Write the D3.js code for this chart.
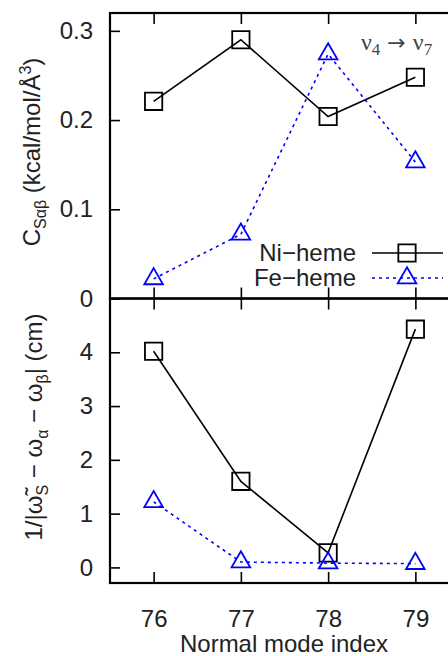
<!DOCTYPE html>
<html><head><meta charset="utf-8">
<script src="https://cdn.jsdelivr.net/npm/d3@7"></script>
<style>
body{margin:0;background:#fff;}
text{font-family:"Liberation Sans",Arial,Helvetica,sans-serif;fill:#222;}
</style></head>
<body><svg id="c" width="448" height="656"></svg>
<script>
const modes = [76, 77, 78, 79];
const couplingNi = [0.221, 0.290, 0.204, 0.248];
const couplingFe = [0.022, 0.072, 0.274, 0.153];
const invDiffNi = [4.02, 1.60, 0.27, 4.43];
const invDiffFe = [1.22, 0.10, 0.08, 0.07];
const topTicks = [0, 0.1, 0.2, 0.3];
const topTickLabels = ["0", "0.1", "0.2", "0.3"];
const botTicks = [0, 1, 2, 3, 4];
const botTickLabels = ["0", "1", "2", "3", "4"];
const seriesNames = ["Ni\u2212heme", "Fe\u2212heme"];

const svg = d3.select("#c");
const L = 110, R = 459, T = 13, M = 298.5, B = 583;
const x = d3.scaleLinear().domain([75.5, 79.5]).range([L, R]);
const yT = d3.scaleLinear().domain([0, 0.32]).range([M, T]);
const yB = d3.scaleLinear().domain([-0.29, 5.0]).range([B, M]);
const FS = 24;

function styleAxis(g){
  g.select(".domain").remove();
  g.selectAll(".tick line").attr("stroke","#000").attr("stroke-width",1.6);
  g.selectAll(".tick text").attr("font-size",FS).attr("font-family",'"Liberation Sans",Arial,sans-serif').attr("fill","#222");
}
svg.append("g").attr("transform",`translate(${L},0)`)
  .call(d3.axisLeft(yT).tickValues(topTicks).tickFormat((d,i)=>topTickLabels[i]).tickSize(-10).tickPadding(17))
  .call(styleAxis);
svg.append("g").attr("transform",`translate(${L},0)`)
  .call(d3.axisLeft(yB).tickValues(botTicks).tickFormat((d,i)=>botTickLabels[i]).tickSize(-10).tickPadding(17))
  .call(styleAxis);
svg.append("g").attr("transform",`translate(${R},0)`)
  .call(d3.axisRight(yT).tickValues(topTicks).tickFormat("").tickSize(-10)).call(styleAxis);
svg.append("g").attr("transform",`translate(${R},0)`)
  .call(d3.axisRight(yB).tickValues(botTicks).tickFormat("").tickSize(-10)).call(styleAxis);
svg.append("g").attr("transform",`translate(0,${T})`)
  .call(d3.axisTop(x).tickValues(modes).tickFormat("").tickSize(-11)).call(styleAxis);
svg.append("g").attr("transform",`translate(0,${M})`)
  .call(d3.axisBottom(x).tickValues(modes).tickFormat("").tickSize(-11)).call(styleAxis);
svg.append("g").attr("transform",`translate(0,${M})`)
  .call(d3.axisTop(x).tickValues(modes).tickFormat("").tickSize(-11)).call(styleAxis);
svg.append("g").attr("transform",`translate(0,${B})`)
  .call(d3.axisBottom(x).tickValues(modes).tickFormat(d=>d).tickSize(-11).tickPadding(27))
  .call(styleAxis);

[[T,M],[M,B]].forEach(([a,b])=>{
  svg.append("rect").attr("x",L).attr("y",a).attr("width",R-L).attr("height",b-a)
    .attr("fill","none").attr("stroke","#000").attr("stroke-width",2.2);
});

const sq = d3.symbol().type(d3.symbolSquare).size(300);
const tri = d3.symbol().type(d3.symbolTriangle).size(150);

function drawSeries(ys, yscale, color, dash, sym){
  const pts = modes.map((m,i)=>[x(m), yscale(ys[i])]);
  svg.append("path").attr("d", d3.line()(pts)).attr("fill","none")
    .attr("stroke",color).attr("stroke-width",1.6).attr("stroke-dasharray",dash);
  svg.selectAll(null).data(pts).enter().append("path")
    .attr("d",sym).attr("transform",d=>`translate(${d[0]},${d[1]})`)
    .attr("fill","none").attr("stroke",color).attr("stroke-width",1.8);
}
drawSeries(couplingNi, yT, "#000", null, sq);
drawSeries(couplingFe, yT, "#0000ff", "3,4", tri);
drawSeries(invDiffNi, yB, "#000", null, sq);
drawSeries(invDiffFe, yB, "#0000ff", "3,4", tri);

const legY = [253, 278];
const legStyles = [["#000", null, sq], ["#0000ff", "3,4", tri]];
legY.forEach((ly,i)=>{
  svg.append("text").attr("x",356).attr("y",ly+8).attr("text-anchor","end")
    .attr("font-size",FS).text(seriesNames[i]);
  svg.append("line").attr("x1",372).attr("x2",443).attr("y1",ly).attr("y2",ly)
    .attr("stroke",legStyles[i][0]).attr("stroke-width",1.6).attr("stroke-dasharray",legStyles[i][1]);
  svg.append("path").attr("d",legStyles[i][2]).attr("transform",`translate(407,${ly})`)
    .attr("fill","none").attr("stroke",legStyles[i][0]).attr("stroke-width",1.8);
});

svg.append("text").attr("x",361).attr("y",50).attr("font-size",24)
  .style("font-family",'"Liberation Serif","Times New Roman",serif').style("fill","#444")
  .html('ν<tspan font-size="17" dy="5">4</tspan><tspan dy="-5" style="font-family:\'DejaVu Sans\'" font-size="22"> → </tspan><tspan>ν</tspan><tspan font-size="17" dy="5">7</tspan>');

const tl = svg.append("text").attr("transform","translate(40,152) rotate(-90)")
  .attr("text-anchor","middle").attr("font-size",FS);
tl.append("tspan").text("C");
tl.append("tspan").attr("font-size",16).attr("dy",6).text("Sαβ");
tl.append("tspan").attr("dy",-6).text(" (kcal/mol/Å");
tl.append("tspan").attr("font-size",16).attr("dy",-9).text("3");
tl.append("tspan").attr("dy",9).text(")");

const bl = svg.append("text").attr("transform","translate(42,427) rotate(-90)")
  .attr("text-anchor","middle").attr("font-size",FS);
bl.append("tspan").text("1/|ω\u0303");
bl.append("tspan").attr("font-size",16).attr("dy",6).text("S");
bl.append("tspan").attr("dy",-6).text(" − ω");
bl.append("tspan").attr("font-size",16).attr("dy",6).text("α");
bl.append("tspan").attr("dy",-6).text(" − ω");
bl.append("tspan").attr("font-size",16).attr("dy",6).text("β");
bl.append("tspan").attr("dy",-6).text("| (cm)");

svg.append("text").attr("x",284).attr("y",652).attr("text-anchor","middle")
  .attr("font-size",FS).text("Normal mode index");
</script></body></html>
